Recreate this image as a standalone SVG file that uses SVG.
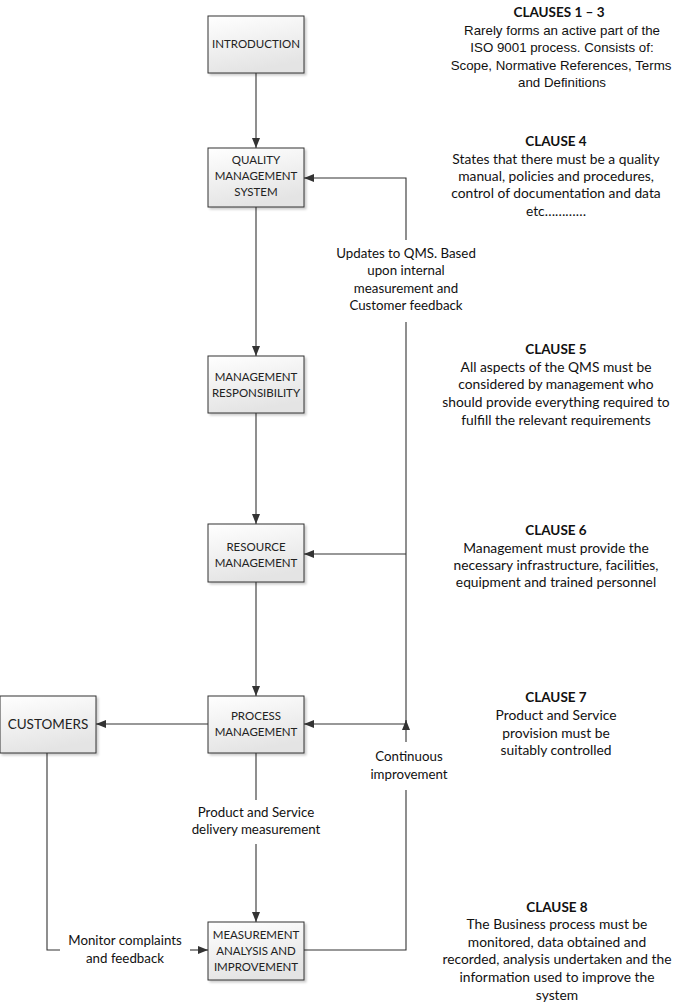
<svg xmlns="http://www.w3.org/2000/svg" width="676" height="1004" viewBox="0 0 676 1004">
<style>
.box{fill:url(#g);stroke:#333;stroke-width:1;filter:url(#sh)}
.bt{font-family:Lato,"Open Sans","Liberation Sans",sans-serif;font-size:11.5px;fill:#222;text-anchor:middle}
.ct{font-family:Lato,"Open Sans","Liberation Sans",sans-serif;font-size:13.8px;fill:#111;text-anchor:middle}
.ttl{font-weight:bold;font-size:13.5px}
.ar{font-family:"Liberation Sans",Arial,sans-serif;font-size:13.3px}
.ln{fill:none;stroke:#333;stroke-width:1.1}
.lb{font-family:Lato,"Open Sans","Liberation Sans",sans-serif;font-size:13.3px;fill:#111;text-anchor:middle}
</style>
<defs>
<linearGradient id="g" x1="0" y1="0" x2="0.3" y2="1">
<stop offset="0" stop-color="#ffffff"/>
<stop offset="1" stop-color="#e4e4e4"/>
</linearGradient>
<filter id="sh" x="-10%" y="-10%" width="130%" height="130%">
<feDropShadow dx="2" dy="2" stdDeviation="1" flood-color="#000" flood-opacity="0.2"/>
</filter>
<marker id="a" viewBox="0 0 10 10" refX="10" refY="5" markerWidth="10" markerHeight="10" markerUnits="userSpaceOnUse" orient="auto">
<path d="M0,1 L10,5 L0,9 z" fill="#333"/>
</marker>
</defs>

<g id="connectors">
<line class="ln" x1="256" y1="73" x2="256" y2="148" marker-end="url(#a)"/>
<line class="ln" x1="256" y1="207" x2="256" y2="356" marker-end="url(#a)"/>
<line class="ln" x1="256" y1="413" x2="256" y2="524" marker-end="url(#a)"/>
<line class="ln" x1="256" y1="582" x2="256" y2="696" marker-end="url(#a)"/>
<polyline class="ln" points="406,240 406,178 304,178" marker-end="url(#a)"/>
<line class="ln" x1="406" y1="322" x2="406" y2="724"/>
<line class="ln" x1="406" y1="554" x2="304" y2="554" marker-end="url(#a)"/>
<line class="ln" x1="406" y1="724" x2="304" y2="724" marker-end="url(#a)"/>
<line class="ln" x1="208" y1="724" x2="96" y2="724" marker-end="url(#a)"/>
<line class="ln" x1="406" y1="742" x2="406" y2="720" marker-end="url(#a)"/>
<polyline class="ln" points="304,950 406,950 406,790"/>
<line class="ln" x1="256" y1="753" x2="256" y2="800"/>
<line class="ln" x1="256" y1="844" x2="256" y2="922" marker-end="url(#a)"/>
<polyline class="ln" points="47,753 47,950 60,950"/>
<line class="ln" x1="190" y1="950" x2="208" y2="950" marker-end="url(#a)"/>
</g>

<g id="labels">
<text class="lb" x="406" y="258">Updates to QMS. Based</text>
<text class="lb" x="406" y="275">upon internal</text>
<text class="lb" x="406" y="293">measurement and</text>
<text class="lb" x="406" y="310">Customer feedback</text>
<text class="lb" x="409" y="761">Continuous</text>
<text class="lb" x="409" y="779">improvement</text>
<text class="lb" x="256" y="817">Product and Service</text>
<text class="lb" x="256" y="834">delivery measurement</text>
<text class="lb" x="125" y="945">Monitor complaints</text>
<text class="lb" x="125" y="963">and feedback</text>
</g>

<g id="introduction">
<rect class="box" x="208" y="16" width="96" height="57"/>
<text class="bt" x="256" y="48">INTRODUCTION</text>
</g>
<g id="qms">
<rect class="box" x="208" y="148" width="96" height="59"/>
<text class="bt" x="256" y="164">QUALITY</text>
<text class="bt" x="256" y="180">MANAGEMENT</text>
<text class="bt" x="256" y="196">SYSTEM</text>
</g>
<g id="management-responsibility">
<rect class="box" x="208" y="356" width="96" height="57"/>
<text class="bt" x="256" y="381">MANAGEMENT</text>
<text class="bt" x="256" y="397">RESPONSIBILITY</text>
</g>
<g id="resource-management">
<rect class="box" x="208" y="524" width="96" height="58"/>
<text class="bt" x="256" y="551">RESOURCE</text>
<text class="bt" x="256" y="567">MANAGEMENT</text>
</g>
<g id="process-management">
<rect class="box" x="208" y="696" width="96" height="57"/>
<text class="bt" x="256" y="720">PROCESS</text>
<text class="bt" x="256" y="736">MANAGEMENT</text>
</g>
<g id="measurement">
<rect class="box" x="208" y="922" width="96" height="58"/>
<text class="bt" x="256" y="939">MEASUREMENT</text>
<text class="bt" x="256" y="955">ANALYSIS AND</text>
<text class="bt" x="256" y="971">IMPROVEMENT</text>
</g>
<g id="customers">
<rect class="box" x="0" y="696" width="96" height="57"/>
<text class="bt" x="48" y="729" style="font-size:13.5px">CUSTOMERS</text>
</g>

<g id="clauses">
<text class="ct ttl" x="559" y="17">CLAUSES 1 – 3</text>
<text class="ct ar" x="562" y="35">Rarely forms an active part of the</text>
<text class="ct ar" x="562" y="52">ISO 9001 process. Consists of:</text>
<text class="ct ar" x="561" y="70">Scope, Normative References, Terms</text>
<text class="ct ar" x="562" y="87">and Definitions</text>

<text class="ct ttl" x="556" y="146">CLAUSE 4</text>
<text class="ct" x="556" y="164">States that there must be a quality</text>
<text class="ct" x="556" y="181">manual, policies and procedures,</text>
<text class="ct" x="556" y="198">control of documentation and data</text>
<text class="ct" x="556" y="216">etc…………</text>

<text class="ct ttl" x="556" y="354">CLAUSE 5</text>
<text class="ct" x="556" y="372">All aspects of the QMS must be</text>
<text class="ct" x="556" y="389">considered by management who</text>
<text class="ct" x="556" y="407">should provide everything required to</text>
<text class="ct" x="556" y="425">fulfill the relevant requirements</text>

<text class="ct ttl" x="556" y="535">CLAUSE 6</text>
<text class="ct" x="556" y="553">Management must provide the</text>
<text class="ct" x="556" y="570">necessary infrastructure, facilities,</text>
<text class="ct" x="556" y="587">equipment and trained personnel</text>

<text class="ct ttl" x="556" y="702">CLAUSE 7</text>
<text class="ct" x="556" y="720">Product and Service</text>
<text class="ct" x="556" y="738">provision must be</text>
<text class="ct" x="556" y="755">suitably controlled</text>

<text class="ct ttl" x="557" y="912">CLAUSE 8</text>
<text class="ct" x="557" y="929">The Business process must be</text>
<text class="ct" x="557" y="947">monitored, data obtained and</text>
<text class="ct" x="557" y="964">recorded, analysis undertaken and the</text>
<text class="ct" x="557" y="982">information used to improve the</text>
<text class="ct" x="557" y="1000">system</text>
</g>
</svg>
